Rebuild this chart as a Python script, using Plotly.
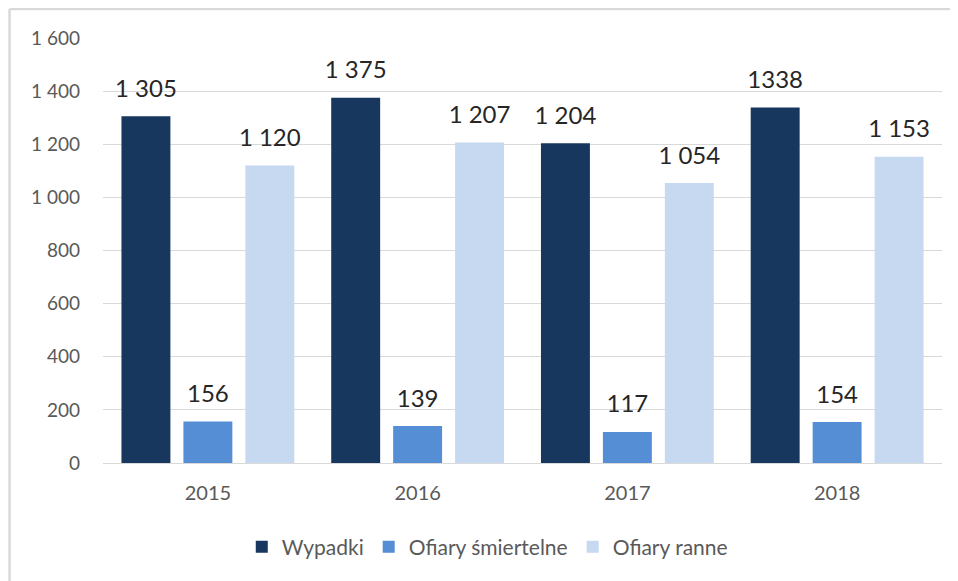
import plotly.graph_objects as go

years = ["2015", "2016", "2017", "2018"]
wypadki = [1305, 1375, 1204, 1338]
smiertelne = [156, 139, 117, 154]
ranne = [1120, 1207, 1054, 1153]
wypadki_labels = ["1 305", "1 375", "1 204", "1338"]
smiertelne_labels = ["156", "139", "117", "154"]
ranne_labels = ["1 120", "1 207", "1 054", "1 153"]
y_ticks = [0, 200, 400, 600, 800, 1000, 1200, 1400, 1600]
y_tick_labels = ["0", "200", "400", "600", "800", "1 000", "1 200", "1 400", "1 600"]

FONT = "Lato, Carlito, Calibri, sans-serif"
label_font = dict(family=FONT, size=24, color="#262626")

series = [
    ("Wypadki", wypadki, wypadki_labels, "#17375E", "g1"),
    ("Ofiary śmiertelne", smiertelne, smiertelne_labels, "#558ED5", "g2"),
    ("Ofiary ranne", ranne, ranne_labels, "#C6D9F1", "g3"),
]

fig = go.Figure()
for name, vals, labels, color, grp in series:
    fig.add_trace(go.Bar(
        x=years, y=vals, name=name,
        marker=dict(color=color, line=dict(width=0)),
        offsetgroup=grp, alignmentgroup="all",
    ))
for name, vals, labels, color, grp in series:
    fig.add_trace(go.Scatter(
        x=years, y=vals, text=labels, mode="markers+text",
        textposition="top center", textfont=label_font,
        marker=dict(size=20, color="rgba(0,0,0,0)"),
        offsetgroup=grp, alignmentgroup="all",
        showlegend=False, hoverinfo="skip", cliponaxis=False,
    ))

fig.update_layout(
    width=950, height=573,
    margin=dict(l=95, r=16, t=30, b=118),
    paper_bgcolor="white", plot_bgcolor="white",
    barmode="group", bargap=0.114, bargroupgap=0.21,
    scattermode="group", scattergap=0.114,
    font=dict(family=FONT, size=19, color="#595959"),
    showlegend=True,
    legend=dict(orientation="h", x=0.458, xanchor="center", y=-0.198, yanchor="middle",
                font=dict(family=FONT, size=21, color="#595959"),
                itemwidth=30, tracegroupgap=0),
    xaxis=dict(showgrid=False, showline=False, ticks="", ticklabelstandoff=16,
               tickfont=dict(size=20, color="#595959")),
    yaxis=dict(range=[0, 1600], tickvals=y_ticks, ticktext=y_tick_labels,
               showgrid=True, gridcolor="#D9D9D9", gridwidth=1,
               zeroline=True, zerolinecolor="#D9D9D9", zerolinewidth=1,
               showline=False, ticks="", ticklabelstandoff=22,
               tickfont=dict(size=19, color="#595959")),
    shapes=[
        dict(type="line", xref="paper", yref="paper", x0=-0.1114, x1=1.03, y0=1.068, y1=1.068,
             line=dict(color="#D9D9D9", width=2.5)),
        dict(type="line", xref="paper", yref="paper", x0=-0.1114, x1=-0.1114, y0=1.068, y1=-0.3,
             line=dict(color="#D9D9D9", width=2.5)),
    ],
)
fig.write_html("out.html")
